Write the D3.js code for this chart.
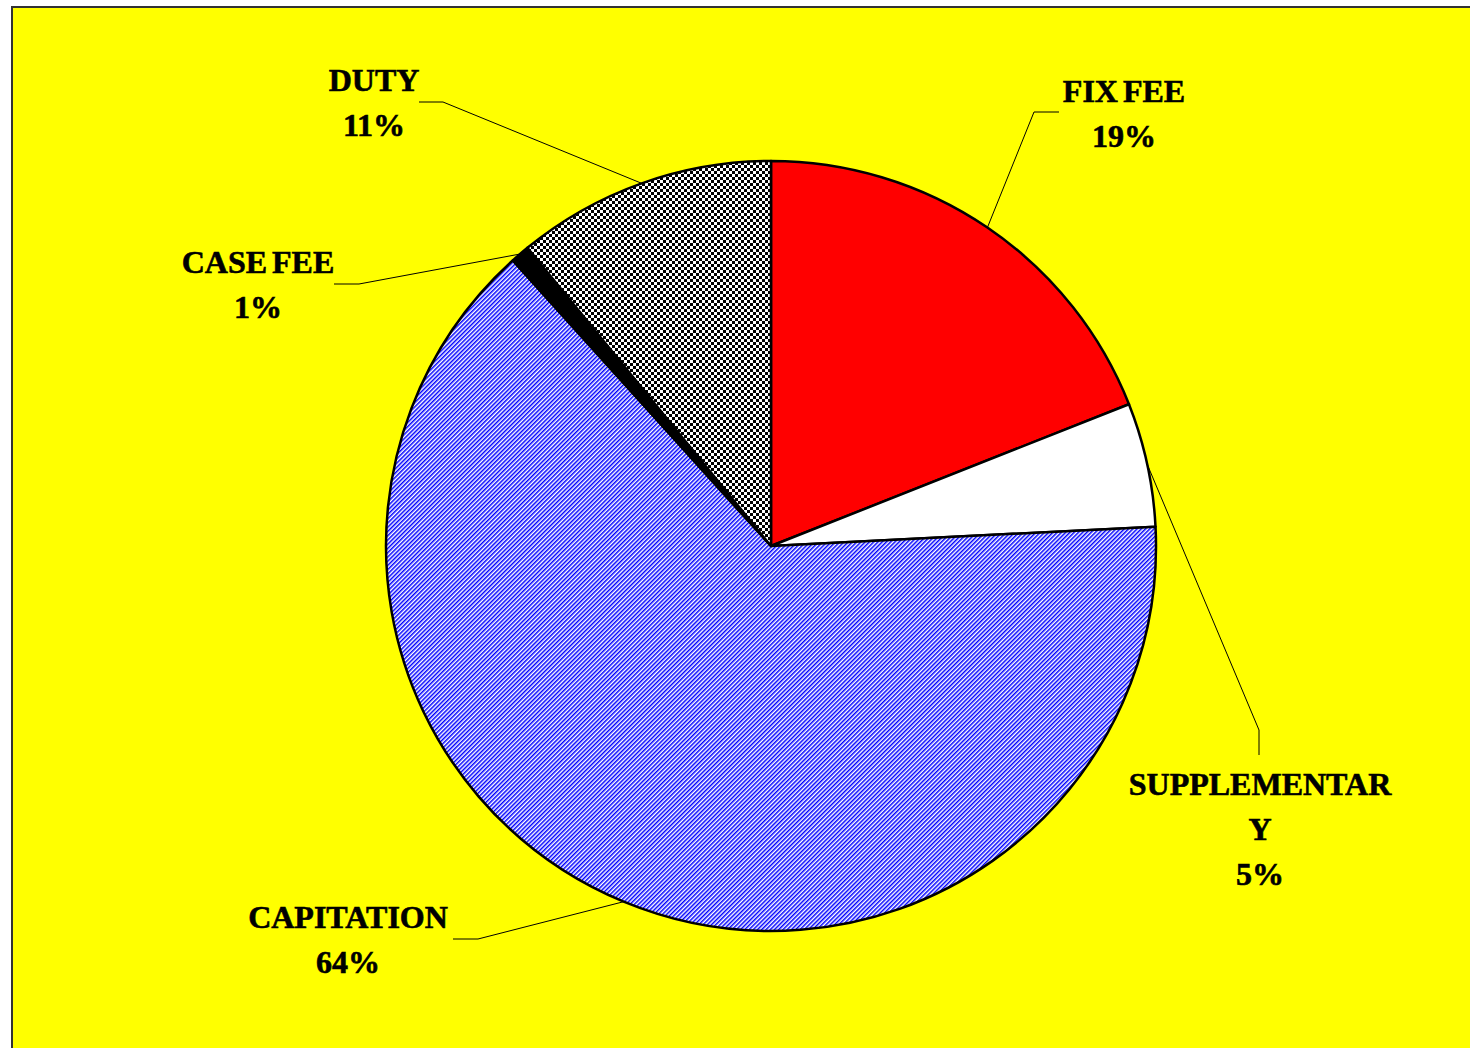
<!DOCTYPE html>
<html>
<head>
  <meta charset="utf-8">
  <title>Pie</title>
  <script src="https://d3js.org/d3.v7.min.js"></script>
  <style>
    html, body { margin: 0; overflow: hidden; height: 100%; background: #fff; }
    text { font-family: "Liberation Serif", "Times New Roman", serif; font-weight: bold; font-size: 32px; fill: #000; stroke: #000; stroke-width: 0.6px; }
  </style>
</head>
<body>
<svg width="1470" height="1048"></svg>

<script>
// data
const categories = ["FIX FEE", "SUPPLEMENTARY", "CAPITATION", "CASE FEE", "DUTY"];
const shares = [19.0, 5.2, 64.1, 0.8, 10.9];
const labelLines = [["FIX FEE"], ["SUPPLEMENTAR", "Y"], ["CAPITATION"], ["CASE FEE"], ["DUTY"]];
const fills = ["#ff0000", "#ffffff", "url(#hatch)", "#000000", "url(#checker)"];

// label placement (x centre, first baseline, leader elbow, leader end)
const labelLayout = [
  { x: 1124, y: 102, elbow: [1034, 112], end: [1059, 112] },
  { x: 1260, y: 795, elbow: [1259, 730], end: [1259, 755] },
  { x: 348,  y: 928, elbow: [478, 939],  end: [453, 939] },
  { x: 258,  y: 273, elbow: [359, 284],  end: [334, 284] },
  { x: 374,  y: 91,  elbow: [443, 102],  end: [419, 102] }
];

const cx = 771, cy = 546, radius = 385, lineHeight = 45;

const svg = d3.select("svg");
const defs = svg.append("defs");

// blue diagonal hatch
const hatch = defs.append("pattern")
  .attr("id", "hatch")
  .attr("patternUnits", "userSpaceOnUse")
  .attr("width", 3).attr("height", 3)
  .attr("patternTransform", "rotate(45)");
hatch.append("rect").attr("width", 3).attr("height", 3).attr("fill", "#fff");
hatch.append("rect").attr("width", 1.5).attr("height", 3).attr("fill", "#0000ff");

// small checkerboard
const checker = defs.append("pattern")
  .attr("id", "checker")
  .attr("patternUnits", "userSpaceOnUse")
  .attr("width", 6).attr("height", 6);
checker.append("rect").attr("width", 6).attr("height", 6).attr("fill", "#fff");
checker.append("rect").attr("width", 3).attr("height", 3).attr("fill", "#000");
checker.append("rect").attr("x", 3).attr("y", 3).attr("width", 3).attr("height", 3).attr("fill", "#000");

// chart area
svg.append("rect")
  .attr("x", 12).attr("y", 7)
  .attr("width", 1470).attr("height", 1060)
  .attr("fill", "#ffff00")
  .attr("stroke", "#333")
  .attr("stroke-width", 2);

const pie = d3.pie().sort(null).value(d => d)(shares);
const arc = d3.arc().innerRadius(0).outerRadius(radius);

const g = svg.append("g").attr("transform", `translate(${cx},${cy})`);

g.selectAll("path")
  .data(pie)
  .enter().append("path")
  .attr("d", arc)
  .attr("fill", (d, i) => fills[i])
  .attr("stroke", "#000")
  .attr("stroke-width", 2.5)
  .attr("stroke-linejoin", "round");

// leader lines
svg.append("g")
  .selectAll("polyline")
  .data(pie)
  .enter().append("polyline")
  .attr("fill", "none")
  .attr("stroke", "#000")
  .attr("stroke-width", 1)
  .attr("points", (d, i) => {
    const a = (d.startAngle + d.endAngle) / 2;
    const p = [cx + radius * Math.sin(a), cy - radius * Math.cos(a)];
    const L = labelLayout[i];
    return [p, L.elbow, L.end].map(q => q.join(",")).join(" ");
  });

// labels
const labels = svg.append("g")
  .selectAll("text")
  .data(pie)
  .enter().append("text")
  .attr("text-anchor", "middle")
  .attr("word-spacing", "-3")
  .attr("x", (d, i) => labelLayout[i].x)
  .attr("y", (d, i) => labelLayout[i].y);

labels.each(function(d, i) {
  const t = d3.select(this);
  const lines = labelLines[i].concat([Math.round(d.data) + "%"]);
  lines.forEach((s, k) => {
    t.append("tspan")
      .attr("x", labelLayout[i].x)
      .attr("dy", k === 0 ? 0 : lineHeight)
      .text(s);
  });
});
</script>
</body>
</html>
